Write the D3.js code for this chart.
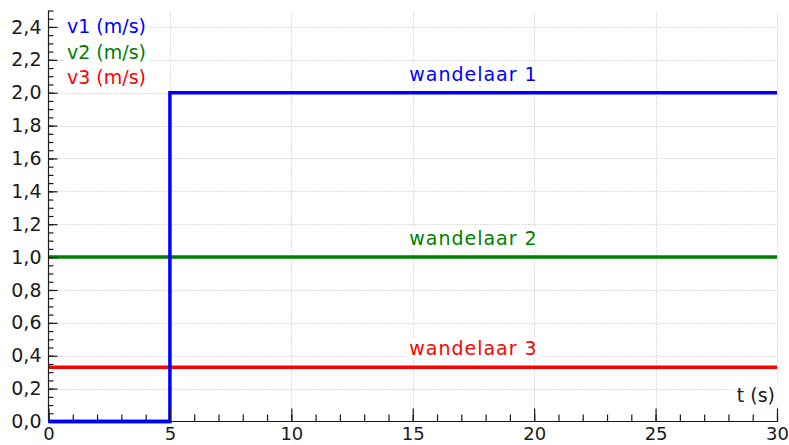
<!DOCTYPE html>
<html>
<head>
<meta charset="utf-8">
<script src="https://cdn.jsdelivr.net/npm/d3@7"></script>
<style>
  html, body { margin: 0; padding: 0; background: #fff; }
  svg { display: block; font-family: "DejaVu Sans", Verdana, sans-serif; }
</style>
</head>
<body>
<svg id="chart" width="789" height="445"></svg>
<script>
// Velocity of three walkers over time
const walker1T = [0, 5, 5, 30];
const walker1V = [0, 0, 2.0, 2.0];
const walker2T = [0, 30];
const walker2V = [1.0, 1.0];
const walker3T = [0, 30];
const walker3V = [0.33, 0.33];

const seriesNames = ["v1 (m/s)", "v2 (m/s)", "v3 (m/s)"];
const lineLabels = ["wandelaar 1", "wandelaar 2", "wandelaar 3"];
const colors = ["#0000ff", "#008000", "#ff0000"];

const xMajorTicks = [0, 5, 10, 15, 20, 25, 30];
const xMinorTicks = d3.range(0, 31, 1);
const yMajorTicks = [0, 0.2, 0.4, 0.6, 0.8, 1.0, 1.2, 1.4, 1.6, 1.8, 2.0, 2.2, 2.4];
const yMinorTicks = d3.range(0, 51).map(i => i * 0.05);
const xTitle = "t (s)";

const svg = d3.select("#chart");
const x = d3.scaleLinear().domain([0, 30]).range([48.5, 777]);
const y = d3.scaleLinear().domain([0, 2.5]).range([421.5, 10.5]);
const fmt = v => d3.format(".1f")(v).replace(".", ",");
const fontSize = 19;

// grid
const grid = svg.append("g").attr("stroke", "#bdbdbd").attr("stroke-width", 1)
  .attr("stroke-dasharray", "1,2");
grid.selectAll("line.h").data(yMajorTicks.filter(v => v > 0)).join("line")
  .attr("class", "h")
  .attr("x1", x(0)).attr("x2", x(30))
  .attr("y1", d => Math.round(y(d)) + 0.5).attr("y2", d => Math.round(y(d)) + 0.5);
grid.selectAll("line.v").data(xMajorTicks.filter(v => v > 0)).join("line")
  .attr("class", "v")
  .attr("y1", y(0)).attr("y2", y(2.5))
  .attr("x1", d => Math.round(x(d)) + 0.5).attr("x2", d => Math.round(x(d)) + 0.5);

// text with a white backing box
function boxedText(g, txt, px, py, color, anchor, spacing) {
  const grp = g.append("g");
  const rect = grp.append("rect").attr("fill", "#fff");
  const t = grp.append("text").attr("x", px).attr("y", py)
    .attr("fill", color).attr("font-size", fontSize)
    .attr("text-anchor", anchor).attr("letter-spacing", spacing || 0)
    .text(txt);
  const b = t.node().getBBox();
  rect.attr("x", b.x - 3).attr("y", b.y + 1).attr("width", b.width + 6).attr("height", b.height - 2);
  return grp;
}

const labels = svg.append("g");
// series names at top-left
const legendY = [33, 58.5, 84];
seriesNames.forEach((n, i) => boxedText(labels, n, 67, legendY[i], colors[i], "start", 0));

// lines
const line = d3.line().x(d => x(d[0])).y(d => y(d[1]));
const series = [
  d3.zip(walker3T, walker3V),
  d3.zip(walker2T, walker2V),
  d3.zip(walker1T, walker1V)
];
const seriesColors = [colors[2], colors[1], colors[0]];
svg.append("g").selectAll("path").data(series).join("path")
  .attr("d", line)
  .attr("fill", "none")
  .attr("stroke", (d, i) => seriesColors[i])
  .attr("stroke-width", 3.5)
  .attr("stroke-linejoin", "miter");

// line labels
const lineLabelT = 17.5;
const lineLabelV = [walker1V[3], walker2V[1], walker3V[1]];
lineLabels.forEach((n, i) =>
  boxedText(labels, n, x(lineLabelT), y(lineLabelV[i]) - 12, colors[i], "middle", 1));

// axes
const axisColor = "#1a1a1a";
const yMinor = svg.append("g").attr("transform", `translate(${x(0)},0)`)
  .call(d3.axisRight(y).tickValues(yMinorTicks).tickSize(5).tickFormat(""));
const yMajor = svg.append("g").attr("transform", `translate(${x(0)},0)`)
  .call(d3.axisLeft(y).tickValues(yMajorTicks).tickSize(-9).tickPadding(7).tickFormat(fmt));
const xMinor = svg.append("g").attr("transform", `translate(0,${y(0)})`)
  .call(d3.axisTop(x).tickValues(xMinorTicks).tickSize(7).tickFormat(""));
const xMajor = svg.append("g").attr("transform", `translate(0,${y(0)})`)
  .call(d3.axisBottom(x).tickValues(xMajorTicks).tickSize(-13).tickPadding(6).tickFormat(d3.format("d")));

[yMinor, yMajor, xMinor, xMajor].forEach(g => {
  g.select(".domain").attr("stroke", axisColor).attr("stroke-width", 1.2);
  g.selectAll(".tick line").attr("stroke", axisColor).attr("stroke-width", 1.2);
  g.selectAll("text").attr("fill", axisColor).attr("font-size", fontSize)
    .attr("font-family", "DejaVu Sans, Verdana, sans-serif");
});
xMajor.selectAll("text").attr("font-size", 18);
yMinor.select(".domain").remove();
xMinor.select(".domain").remove();
yMajor.select(".domain").attr("d", `M0,${y(0)}V${y(2.5)}`);
xMajor.select(".domain").attr("d", `M${x(0)},0H${x(30)}`);

// walker 1 drawn again above the axes at t=0..5
svg.append("path").datum(d3.zip(walker1T, walker1V).slice(0, 2))
  .attr("d", line).attr("stroke", colors[0]).attr("stroke-width", 3.5).attr("fill", "none");

// x-axis title
boxedText(labels, xTitle, x(30) - 2, 402, axisColor, "end", 0);
</script>
</body>
</html>
